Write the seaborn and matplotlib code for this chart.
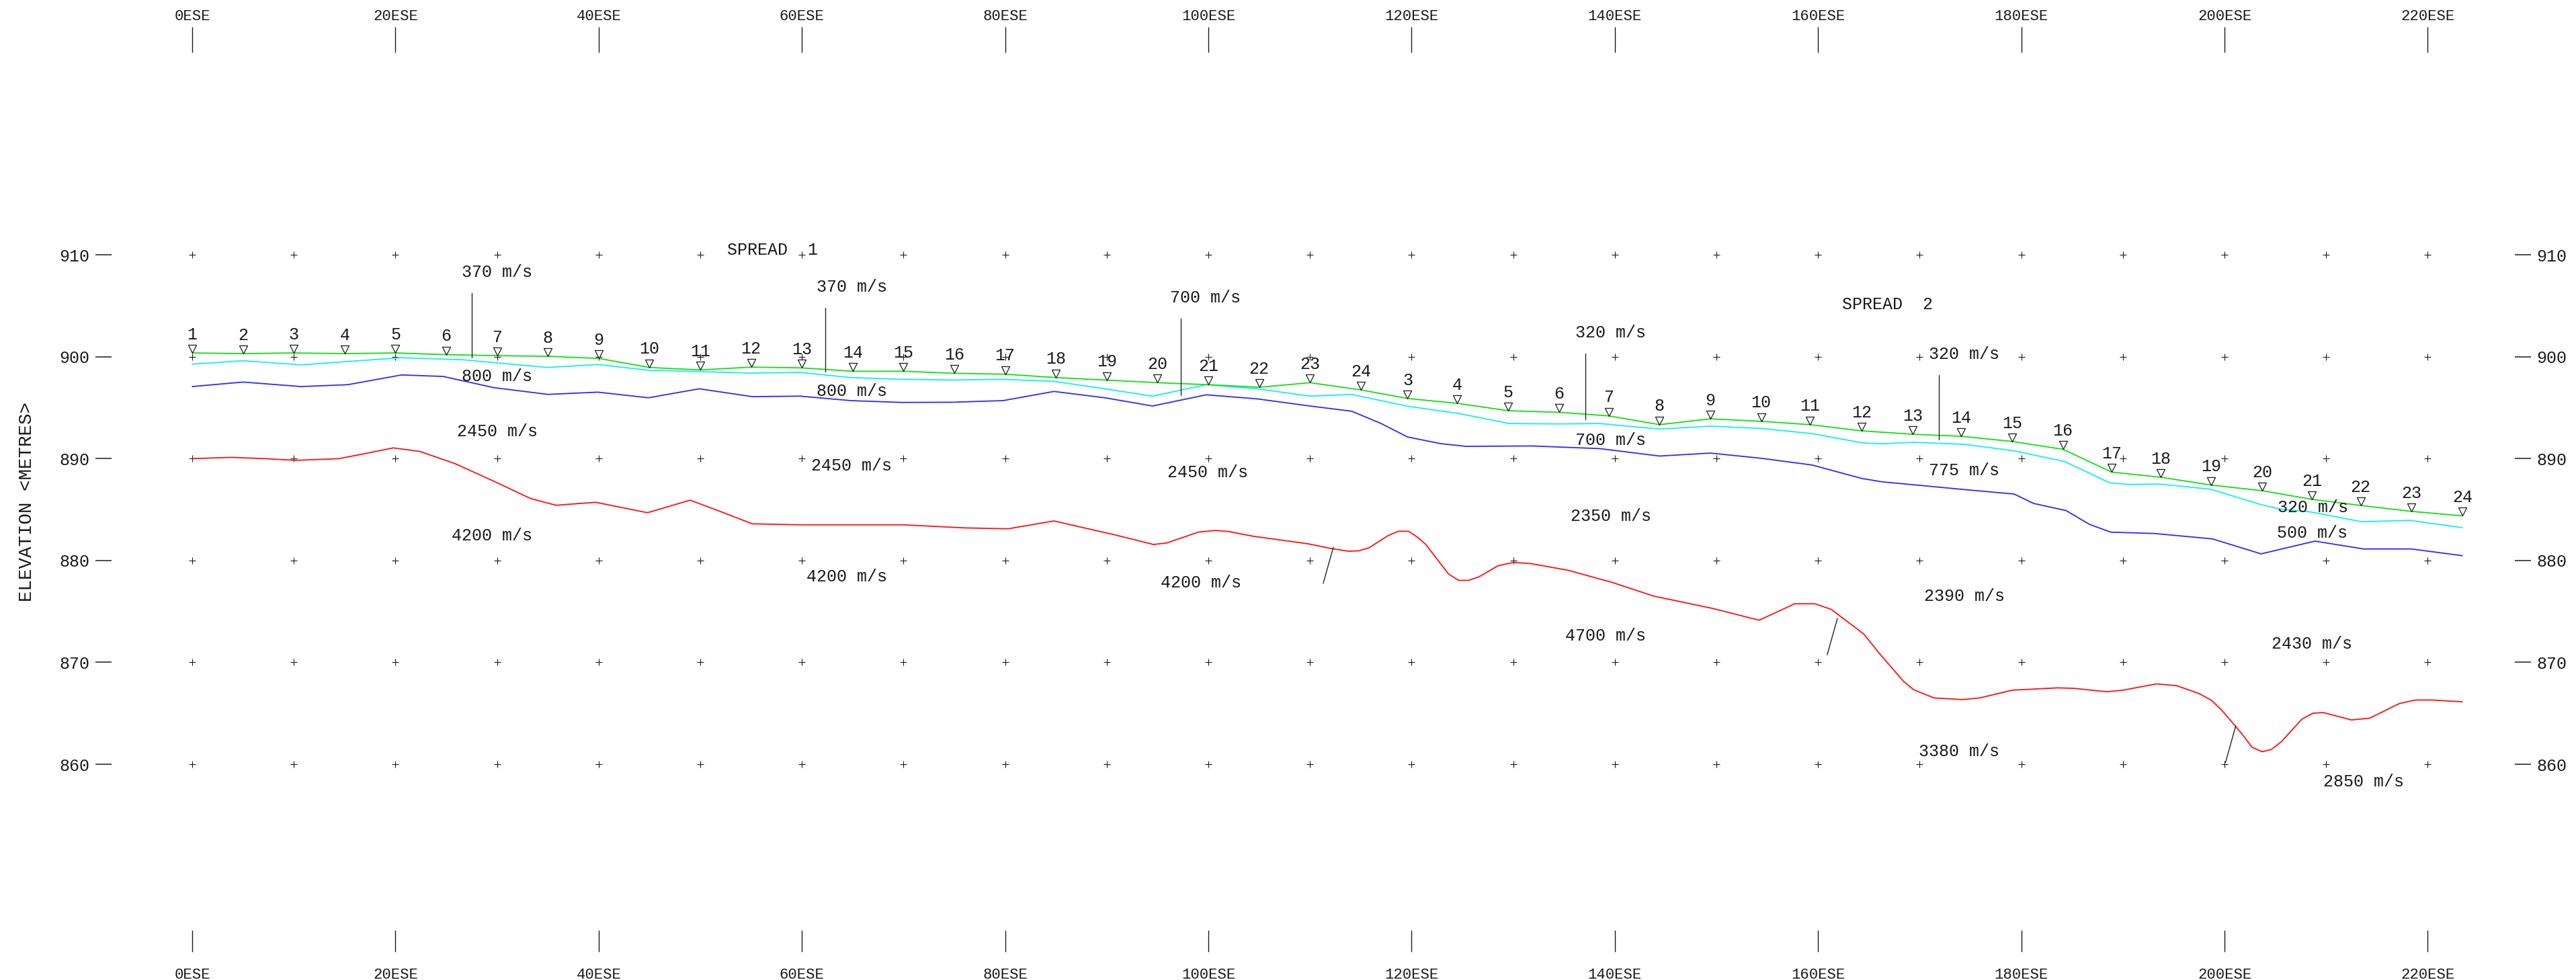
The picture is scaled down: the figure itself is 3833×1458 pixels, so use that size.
import numpy as np
import matplotlib
matplotlib.use("Agg")
import matplotlib.pyplot as plt
import seaborn as sns

# --- 坐标轴刻度 ---
ese_ticks = [0, 20, 40, 60, 80, 100, 120, 140, 160, 180, 200, 220]
ese_labels = [f"{t}ESE" for t in ese_ticks]
elev_ticks = [860, 870, 880, 890, 900, 910]
grid_x = list(range(0, 221, 10))
grid_y = [860, 870, 880, 890, 900, 910]

# --- 检波器 (spread 1 / spread 2) ---
spread1_num = list(range(1, 25))
spread1_pos = [0, 5, 10, 15, 20, 25, 30, 35, 40, 45, 50, 55, 60, 65, 70, 75, 80, 85, 90, 95, 100, 105, 110, 115]
spread1_elev = [900.37, 900.3, 900.37, 900.3, 900.37, 900.2, 900.1, 900.04, 899.83, 898.94, 898.7, 898.98,
                898.9, 898.57, 898.57, 898.37, 898.28, 897.95, 897.7, 897.45, 897.25, 897.0, 897.45, 896.74]
spread2_num = list(range(3, 25))
spread2_pos = [119.6, 124.5, 129.5, 134.5, 139.4, 144.4, 149.4, 154.4, 159.2, 164.3, 169.3, 174.1,
               179.1, 184.1, 188.9, 193.7, 198.7, 203.7, 208.6, 213.4, 218.4, 223.4]
spread2_elev = [895.9, 895.42, 894.7, 894.54, 894.19, 893.33, 893.9, 893.66, 893.33, 892.72, 892.39, 892.19,
                891.68, 890.91, 888.67, 888.17, 887.4, 886.85, 886.0, 885.4, 884.82, 884.38]

# --- 界面 ---
cyan_x = [0, 5, 10.7, 20.6, 26.6, 35.0, 39.9, 44.9, 49.9, 55.1, 59.8, 64.8, 69.8, 74.8, 79.8, 84.8,
          89.8, 94.5, 99.8, 104.8, 110.0, 114.1, 119.6, 124.6, 129.6, 134.6, 138.5, 144.4, 149.4,
          154.4, 159.4, 164.3, 166.3, 169.4, 174.4, 179.3, 184.3, 188.7, 190.6, 193.6, 198.6, 203.6,
          205.5, 208.5, 213.5, 218.2, 221.0, 223.4]
cyan_z = [899.27, 899.6, 899.2, 899.9, 899.7, 898.94, 899.23, 898.67, 898.54, 898.39, 898.46, 897.95,
          897.78, 897.71, 897.78, 897.58, 896.85, 896.13, 897.25, 896.85, 896.13, 896.3, 895.14, 894.43,
          893.44, 893.4, 893.44, 892.9, 893.18, 892.96, 892.45, 891.55, 891.45, 891.6, 891.4, 890.76,
          889.7, 887.62, 887.46, 887.5, 887.0, 885.48, 885.04, 884.76, 883.8, 883.94, 883.55, 883.22]

blue_x = [0, 5, 10.7, 15.3, 20.6, 24.7, 29.7, 35.0, 39.9, 44.9, 49.9, 55.1, 59.8, 64.8, 69.8, 74.8,
          79.8, 84.8, 89.8, 94.5, 99.8, 104.8, 110.0, 114.1, 117.0, 119.6, 122.9, 125.4, 131.8, 138.5,
          144.4, 149.4, 154.4, 159.4, 164.3, 166.3, 174.4, 179.3, 181.2, 184.4, 186.7, 188.8, 193.1,
          198.8, 203.6, 208.9, 213.7, 218.4, 223.4]
blue_z = [897.07, 897.51, 897.07, 897.25, 898.21, 898.06, 896.96, 896.3, 896.52, 895.97, 896.85, 896.08,
          896.13, 895.69, 895.51, 895.53, 895.69, 896.59, 895.97, 895.16, 896.26, 895.86, 895.16, 894.65,
          893.44, 892.12, 891.46, 891.2, 891.24, 890.98, 890.25, 890.54, 890.03, 889.37, 888.05, 887.72,
          886.96, 886.52, 885.6, 884.9, 883.55, 882.78, 882.65, 882.12, 880.65, 881.9, 881.13, 881.13, 880.47]

red_x = [0, 3.9, 7.0, 10.2, 14.4, 16.9, 19.8, 22.4, 25.9, 29.7, 33.3, 35.8, 39.7, 44.8, 49.0, 52.0,
         55.1, 59.8, 70.0, 76.0, 80.3, 84.8, 90.9, 94.6, 95.9, 99.0, 100.7, 102.0, 104.4, 109.8,
         112.1, 113.8, 114.8, 115.8, 117.7, 118.7, 119.7, 120.6, 121.4, 123.6, 124.6, 125.6, 126.6,
         128.5, 130.0, 131.7, 135.4, 139.8, 143.8, 149.6, 154.2, 157.7, 159.7, 161.3, 164.5, 166.1,
         168.4, 169.4, 171.4, 174.2, 175.9, 179.1, 183.6, 185.2, 188.4, 190.0, 193.3, 195.3, 197.5,
         198.7, 199.7, 201.8, 202.7, 203.7, 204.6, 205.6, 207.6, 208.7, 209.7, 212.5, 214.3, 217.2,
         218.8, 220.4, 223.4]
red_z = [890.0, 890.12, 890.0, 889.83, 889.99, 890.47, 891.05, 890.7, 889.49, 887.77, 886.08, 885.42,
         885.71, 884.69, 885.92, 884.8, 883.6, 883.5, 883.5, 883.2, 883.11, 883.88, 882.49, 881.57,
         881.72, 882.78, 882.95, 882.84, 882.38, 881.64, 881.17, 880.91, 880.95, 881.24, 882.45, 882.87,
         882.87, 882.27, 881.57, 878.71, 878.05, 878.05, 878.38, 879.48, 879.81, 879.7, 879.04, 877.83,
         876.51, 875.3, 874.14, 875.75, 875.75, 875.2, 872.78, 870.8, 868.15, 867.32, 866.51, 866.35,
         866.51, 867.27, 867.5, 867.45, 867.12, 867.27, 867.89, 867.71, 866.94, 866.29, 865.34, 862.88,
         861.67, 861.23, 861.45, 862.22, 864.42, 865.01, 865.08, 864.35, 864.53, 865.96, 866.31, 866.31,
         866.13]

# --- 速度分界线 ---
break_x = [[27.5, 27.5], [62.3, 62.3], [97.3, 97.3], [137.1, 137.1], [171.9, 171.9],
           [112.3, 111.3], [161.9, 160.9], [201.1, 200.1]]
break_z = [[899.93, 906.24], [898.54, 904.77], [896.19, 903.73], [893.84, 900.3], [891.84, 898.21],
           [881.3, 877.76], [874.31, 870.75], [863.76, 860.18]]

# --- 速度标注 ---
label_text = ["370 m/s", "800 m/s", "2450 m/s", "4200 m/s", "SPREAD  1",
              "370 m/s", "800 m/s", "2450 m/s", "4200 m/s",
              "700 m/s", "2450 m/s", "4200 m/s",
              "320 m/s", "700 m/s", "2350 m/s", "4700 m/s", "SPREAD  2",
              "320 m/s", "775 m/s", "2390 m/s", "3380 m/s",
              "320 m/s", "500 m/s", "2430 m/s", "2850 m/s"]
label_x = [30.0, 30.0, 30.0, 29.5, 57.1,
           64.9, 64.9, 64.9, 64.4,
           99.7, 99.9, 99.3,
           139.6, 139.6, 139.6, 139.1, 166.8,
           174.4, 174.4, 174.4, 173.9,
           208.7, 208.6, 208.6, 213.7]
label_z = [908.3, 898.06, 892.63, 882.45, 910.44,
           906.81, 896.63, 889.31, 878.4,
           905.8, 888.6, 877.79,
           902.35, 891.79, 884.34, 872.62, 905.1,
           900.26, 888.83, 876.5, 861.23,
           885.23, 882.71, 871.78, 858.27]

# --- 样式 ---
sns.set_style("white")
plt.rcParams["font.family"] = ["Liberation Mono", "DejaVu Sans Mono"]
TXT = "#1a1a1a"

W, H, DPI = 3833, 1458, 100
fig = plt.figure(figsize=(W / DPI, H / DPI), dpi=DPI)
fig.patch.set_facecolor("white")
ax = fig.add_axes([166 / W, 1 - 1384 / H, (3742 - 166) / W, (1384 - 78) / H])
ax.set_xlim(-7.94, 228.57)
ax.set_ylim(843.71, 929.86)

# 网格 "+"
gx, gy = np.meshgrid(grid_x, grid_y)
sns.scatterplot(x=gx.ravel(), y=gy.ravel(), marker="+", s=45, color=TXT, linewidth=0.8, ax=ax, zorder=2)

# 地表与各层界面
surf_x = spread1_pos + spread2_pos
surf_z = spread1_elev + spread2_elev
for xs, zs, col in [(red_x, red_z, "#ff1010"), (blue_x, blue_z, "#2a2aff"),
                    (cyan_x, cyan_z, "#10f0f0"), (surf_x, surf_z, "#10e010")]:
    sns.lineplot(x=xs, y=zs, color=col, linewidth=1.3, estimator=None, sort=False, ax=ax, zorder=3)

for xs, zs in zip(break_x, break_z):
    ax.plot(xs, zs, color="#222222", linewidth=1.0, zorder=3)

# 检波器三角形 (顶点在地表)
tri = [(0, 0), (-0.5, 1), (0.5, 1), (0, 0)]
sns.scatterplot(x=surf_x, y=surf_z, marker=tri, s=300, facecolor="white", edgecolor=TXT,
                linewidth=0.9, ax=ax, zorder=4)
for n, x, z in zip(spread1_num + spread2_num, surf_x, surf_z):
    ax.text(x, z + 1.8, str(n), ha="center", va="center", fontsize=18, color=TXT, zorder=5)

for s, x, z in zip(label_text, label_x, label_z):
    ax.text(x, z, s, ha="center", va="center", fontsize=18, color=TXT, zorder=5)

# 刻度
ax.set_xticks(ese_ticks, ese_labels)
ax.set_yticks(elev_ticks)
ax.tick_params(axis="x", bottom=True, top=False, length=23, width=1.0, pad=17,
               labelsize=16, color=TXT, labelcolor=TXT)
ax.tick_params(axis="y", left=True, right=True, labelleft=True, labelright=True,
               length=17.3, width=1.1, pad=6, labelsize=18, color=TXT, labelcolor=TXT)
top = ax.secondary_xaxis("top")
top.set_xticks(ese_ticks, ese_labels)
top.tick_params(length=27.4, width=1.0, pad=3.6, labelsize=16, color=TXT, labelcolor=TXT)
for sp in list(ax.spines.values()) + list(top.spines.values()):
    sp.set_visible(False)
ax.grid(False)

ax.text(-0.0351, 0.488, "ELEVATION <METRES>", transform=ax.transAxes, rotation=90,
        ha="center", va="center", fontsize=19.8, color=TXT)

fig.savefig("out.png", dpi=DPI, facecolor="white")
